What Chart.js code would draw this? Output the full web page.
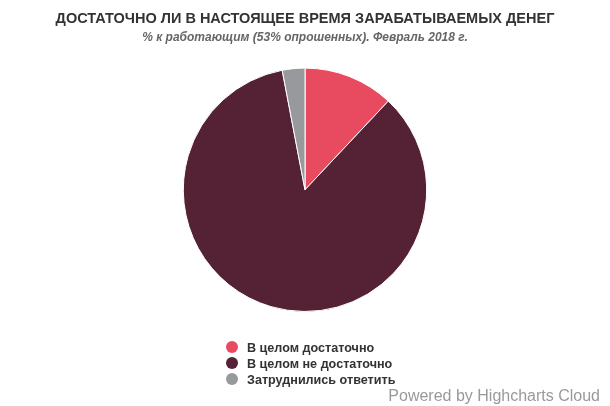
<!DOCTYPE html>
<html>
<head>
<meta charset="utf-8">
<script src="https://cdn.jsdelivr.net/npm/chart.js@4/dist/chart.umd.min.js"></script>
<style>
  html, body { margin: 0; padding: 0; background: #fff; }
  #wrap { position: relative; width: 610px; height: 406px; font-family: "Liberation Sans", Arial, sans-serif; }
  #legend { position: absolute; left: 226px; top: 340px; margin: 0; padding: 0; list-style: none; }
  #legend li { height: 16px; line-height: 16px; font-size: 12.6px; font-weight: bold; color: #333; white-space: nowrap; }
  #legend .dot { display: inline-block; width: 12px; height: 12px; border-radius: 50%; vertical-align: -1px; margin-right: 9px; }
  #credits { position: absolute; right: 10px; bottom: 1px; font-size: 16px; color: #999; }
</style>
</head>
<body>
<div id="wrap">
  <canvas id="chart" width="610" height="406"></canvas>
  <ul id="legend"></ul>
  <div id="credits">Powered by Highcharts Cloud</div>
</div>
<script>
// Данные
const categories = ['В целом достаточно', 'В целом не достаточно', 'Затруднились ответить'];
const shares = [12, 85, 3];
const colors = ['#E84A5F', '#552235', '#98999C'];

const chart = new Chart(document.getElementById('chart').getContext('2d'), {
    type: 'pie',
    data: {
        labels: categories,
        datasets: [{
            data: shares,
            backgroundColor: colors,
            borderColor: '#fff',
            borderWidth: 1,
            hoverOffset: 0
        }]
    },
    options: {
        responsive: false,
        animation: false,
        layout: { padding: { top: 0, bottom: 94, left: 0, right: 0 } },
        plugins: {
            legend: { display: false },
            tooltip: { enabled: false },
            title: {
                display: true,
                text: 'ДОСТАТОЧНО ЛИ В НАСТОЯЩЕЕ ВРЕМЯ ЗАРАБАТЫВАЕМЫХ ДЕНЕГ',
                color: '#333',
                font: { family: '"Liberation Sans", Arial, sans-serif', size: 14.5, weight: 'bold', lineHeight: 1.2 },
                padding: { top: 10, bottom: 0 }
            },
            subtitle: {
                display: true,
                text: '% к работающим (53% опрошенных). Февраль 2018 г.',
                color: '#666',
                font: { family: '"Liberation Sans", Arial, sans-serif', size: 12, weight: 'bold', style: 'italic', lineHeight: 1.2 },
                padding: { top: 2.6, bottom: 23.2 }
            }
        }
    }
});

// Легенда (HTML, вертикальный список)
const legend = document.getElementById('legend');
chart.options.plugins.legend.labels.generateLabels(chart).forEach(item => {
    legend.innerHTML += `<li><span class="dot" style="background:${item.fillStyle}"></span>${item.text}</li>`;
});
</script>
</body>
</html>
